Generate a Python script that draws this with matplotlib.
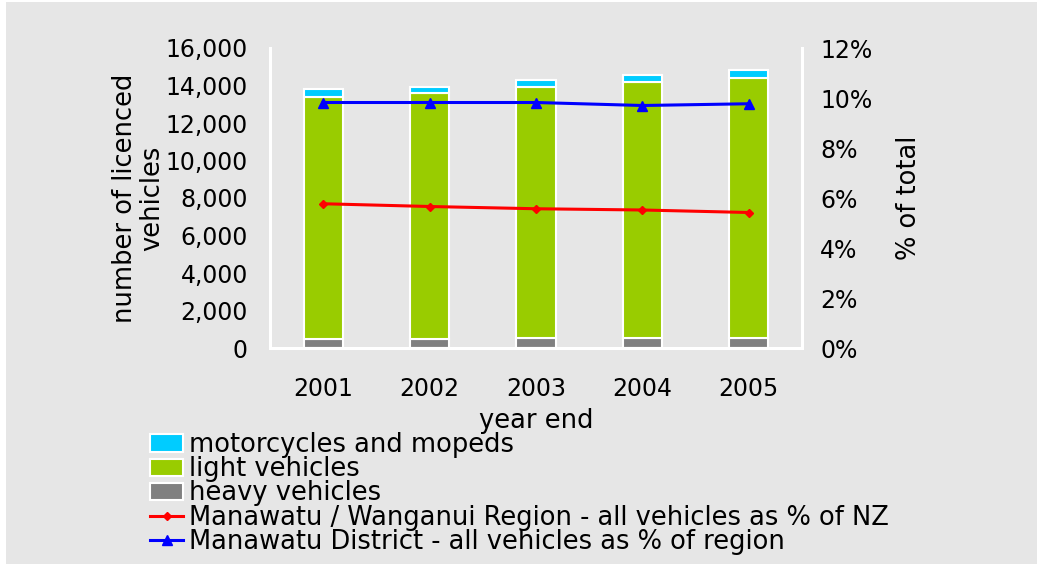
import numpy as np
import matplotlib.pyplot as plt
from matplotlib.patches import Rectangle
from matplotlib.ticker import FuncFormatter

years = ["2001", "2002", "2003", "2004", "2005"]
heavy = [470, 470, 540, 540, 540]
light = [12930, 13110, 13360, 13625, 13880]
moto = [390, 340, 410, 410, 410]
region_pct_nz = [5.77, 5.66, 5.57, 5.52, 5.42]
district_pct_region = [9.82, 9.82, 9.82, 9.70, 9.77]

BG = "#e6e6e6"
FS = 17      # tick labels
FS_TXT = 18.5  # axis titles and legend (reference font runs wider)

plt.rcParams["font.family"] = ["DejaVu Sans"]

fig = plt.figure(figsize=(10.37, 5.64), dpi=100, facecolor="white")
fig.patches.append(Rectangle((6 / 1037, 0), 1, 562 / 564, transform=fig.transFigure,
                             facecolor=BG, edgecolor="none", zorder=-10))

ax = fig.add_axes([270 / 1037, 1 - 348 / 564, 532 / 1037, 300 / 564])
ax.set_facecolor(BG)

x = np.arange(len(years))
w = 0.37
bottom_light = np.array(heavy)
bottom_moto = bottom_light + np.array(light)
b_heavy = ax.bar(x, heavy, w, color="#808080", edgecolor="white", linewidth=1.5,
                 label="heavy vehicles", zorder=2)
b_light = ax.bar(x, light, w, bottom=bottom_light, color="#99cc00", edgecolor="white",
                 linewidth=1.5, label="light vehicles", zorder=2)
b_moto = ax.bar(x, moto, w, bottom=bottom_moto, color="#00ccff", edgecolor="white",
                linewidth=1.5, label="motorcycles and mopeds", zorder=2)

ax.set_xlim(-0.5, len(years) - 0.5)
ax.set_ylim(0, 16000)
ax.set_yticks(np.arange(0, 16001, 2000))
ax.yaxis.set_major_formatter(FuncFormatter(lambda v, p: f"{int(v):,}"))
ax.set_xticks(x)
ax.set_xticklabels(years)
ax.tick_params(axis="both", length=0, labelsize=FS)
ax.tick_params(axis="x", pad=21)
ax.tick_params(axis="y", pad=16)
ax.set_ylabel("number of licenced\nvehicles", fontsize=FS_TXT, linespacing=1.1, labelpad=0)
ax.set_xlabel("year end", fontsize=FS_TXT, labelpad=5)

ax2 = ax.twinx()
l_red, = ax2.plot(x, region_pct_nz, color="#ff0000", lw=2.2, marker="D", ms=4,
                  label="Manawatu / Wanganui Region - all vehicles as % of NZ", zorder=3)
l_blue, = ax2.plot(x, district_pct_region, color="#0000ff", lw=2.2, marker="^", ms=6.5,
                   label="Manawatu District - all vehicles as % of region", zorder=3)
ax2.set_ylim(0, 12)
ax2.set_yticks(np.arange(0, 13, 2))
ax2.yaxis.set_major_formatter(FuncFormatter(lambda v, p: f"{int(v)}%"))
ax2.tick_params(axis="y", length=0, labelsize=FS, pad=13)
ax2.set_ylabel("% of total", fontsize=FS_TXT, labelpad=17)

for a in (ax, ax2):
    a.spines["top"].set_visible(False)
    for s in ("left", "bottom", "right"):
        a.spines[s].set_color("white")
        a.spines[s].set_linewidth(2.2)

leg = fig.legend([b_moto, b_light, b_heavy, l_red, l_blue],
                 [b_moto.get_label(), b_light.get_label(), b_heavy.get_label(),
                  l_red.get_label(), l_blue.get_label()],
                 loc="upper left", bbox_to_anchor=(150 / 1037, 1 - 432 / 564),
                 frameon=False, fontsize=FS_TXT, labelspacing=-0.07, handlelength=1.3,
                 handletextpad=0.22, borderpad=0, borderaxespad=0, handleheight=0.65)

fig.savefig("out.png", dpi=100, facecolor=fig.get_facecolor())
